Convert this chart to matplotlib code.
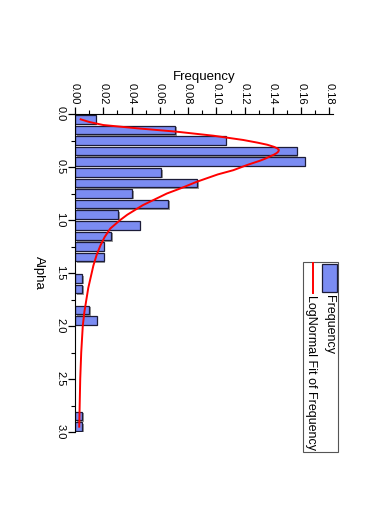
#Histogram of Alpha with LogNormal fit - drawn rotated (page turned clockwise)

import matplotlib
matplotlib.use("Agg")
import matplotlib.pyplot as plt
from matplotlib.patches import Rectangle
from matplotlib.lines import Line2D
from matplotlib.transforms import offset_copy

plt.rcParams['font.family'] = ['Liberation Sans', 'DejaVu Sans']

#Datos

# bin centers (Alpha) and relative frequency
alpha = [0.05, 0.15, 0.25, 0.35, 0.45, 0.55, 0.65, 0.75, 0.85, 0.95,
         1.05, 1.15, 1.25, 1.35, 1.55, 1.65, 1.85, 1.95, 2.85, 2.95]
freq = [0.0148, 0.0709, 0.1065, 0.1570, 0.1626, 0.0610, 0.0865, 0.0405, 0.0660, 0.0306,
        0.0457, 0.0255, 0.0203, 0.0203, 0.0052, 0.0052, 0.0101, 0.0153, 0.0052, 0.0052]

# points
fit_alpha = [0.05, 0.075, 0.104, 0.135, 0.167, 0.205, 0.245, 0.27, 0.29, 0.31,
             0.325, 0.34, 0.355, 0.37, 0.385, 0.40, 0.42, 0.44, 0.48, 0.53,
             0.57, 0.64, 0.70, 0.75, 0.86, 0.95, 1.00, 1.08, 1.16, 1.24,
             1.33, 1.43, 1.64, 1.87, 2.00, 2.25, 2.50, 2.75, 2.95]
fit_freq = [0.004, 0.010, 0.020, 0.044, 0.072, 0.098, 0.119, 0.129, 0.136, 0.1408,
            0.1432, 0.1442, 0.1438, 0.1425, 0.1405, 0.138, 0.1348, 0.131, 0.122, 0.112,
            0.101, 0.086, 0.075, 0.065, 0.048, 0.037, 0.032, 0.025, 0.021, 0.018,
            0.0153, 0.013, 0.0094, 0.0066, 0.0055, 0.0044, 0.0037, 0.0033, 0.0030]

W, H = 374, 529
fig = plt.figure(figsize=(W / 100, H / 100), dpi=100)
ax = fig.add_axes([75 / W, 1 - 432 / H, (333 - 75) / W, (432 - 114) / H])

#Barras con sombra

shadow = offset_copy(ax.transData, fig=fig, x=1.5, y=-1.5, units='dots')
ax.barh(alpha, freq, height=0.08, color='#9a9a9a', edgecolor='none',
        transform=shadow, zorder=1)
ax.barh(alpha, freq, height=0.08, color='#7b8cf2', edgecolor='#1c1c38',
        linewidth=0.9, zorder=2)

ax.plot(fit_freq, fit_alpha, color='#ff0000', linewidth=1.4, zorder=3)

#Ejes

ax.set_xlim(0, 0.1825)
ax.set_ylim(3.0, 0.0)
ax.spines['right'].set_visible(False)
ax.spines['bottom'].set_visible(False)
ax.xaxis.tick_top()
ax.xaxis.set_label_position('top')

ax.set_xticks([i * 0.02 for i in range(10)])
ax.set_xticks([i * 0.01 + 0.01 for i in range(18)], minor=True)
ax.set_xticklabels(['%.2f' % (i * 0.02) for i in range(10)], rotation=-90)
ax.set_yticks([0.0, 0.5, 1.0, 1.5, 2.0, 2.5, 3.0])
ax.set_yticks([0.25, 0.75, 1.25, 1.75, 2.25, 2.75], minor=True)
ax.set_yticklabels(['0.0', '0.5', '1.0', '1.5', '2.0', '2.5', '3.0'],
                   rotation=-90, va='center')

ax.tick_params(which='major', direction='out', length=5, width=0.9,
               labelsize=8, pad=2)
ax.tick_params(which='minor', direction='out', length=3, width=0.8)

ax.set_xlabel('Frequency', fontsize=9.5, labelpad=2)
ax.set_ylabel('Alpha', fontsize=9.5, rotation=-90, labelpad=12, va='center')

#Leyenda (dibujada a mano para rotar el texto)

def fx(px):
    return px / W

def fy(py):
    return 1 - py / H

fig.patches.append(Rectangle((fx(303), fy(452)), fx(338) - fx(303), fy(262) - fy(452),
                             transform=fig.transFigure, facecolor='white',
                             edgecolor='#555555', linewidth=0.8, zorder=5))
fig.patches.append(Rectangle((fx(322), fy(292)), fx(337) - fx(322), fy(264) - fy(292),
                             transform=fig.transFigure, facecolor='#7b8cf2',
                             edgecolor='#1c1c38', linewidth=0.9, zorder=6))
fig.lines.append(Line2D([fx(312.5), fx(312.5)], [fy(263), fy(293)],
                        transform=fig.transFigure, color='#ff0000', linewidth=1.4,
                        zorder=6))
fig.text(fx(329), fy(295), 'Frequency', rotation=-90, ha='center', va='top',
         fontsize=9, zorder=7)
fig.text(fx(311), fy(295), 'LogNormal Fit of Frequency', rotation=-90,
         ha='center', va='top', fontsize=9, zorder=7)

fig.savefig('out.png', dpi=100)
